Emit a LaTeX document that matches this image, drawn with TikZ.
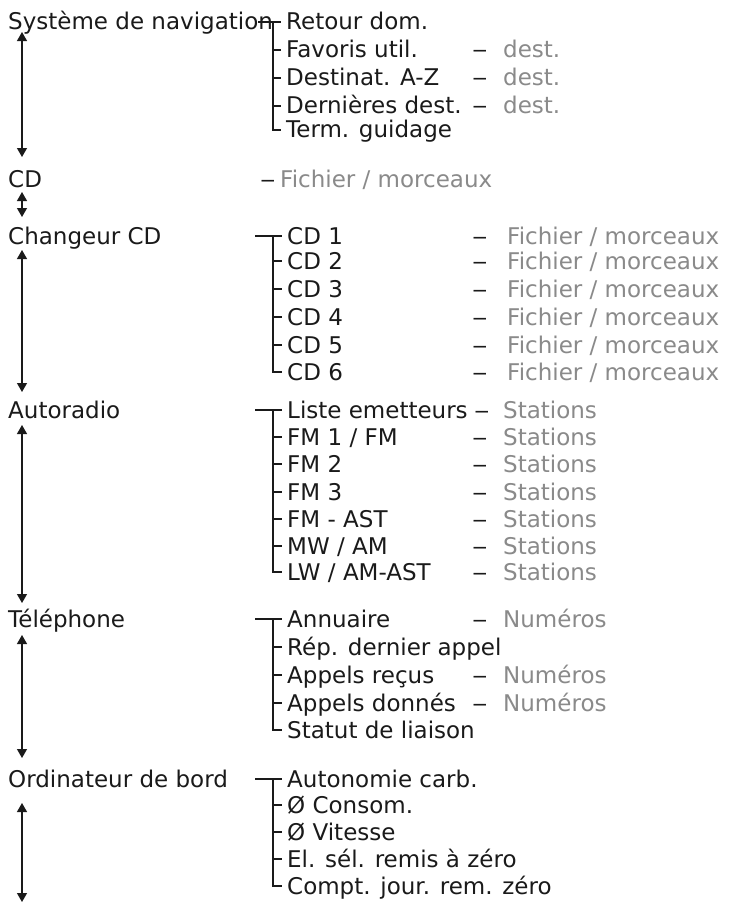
\documentclass[tikz,border=0pt]{standalone}
\usepackage{graphicx}
\usepackage{fontspec}
\setmainfont{DejaVu Sans}
\usetikzlibrary{arrows.meta}
\definecolor{ink}{HTML}{1A1A1A}
\definecolor{greytxt}{HTML}{8A8A8A}
\newcommand{\longdash}{\scalebox{1.35}[1]{–}}
\tikzset{
  lbl/.style={anchor=base west, inner sep=0pt, font=\fontsize{23}{27}\selectfont, text=ink},
  val/.style={lbl, text=greytxt},
  dsh/.style={anchor=base, inner sep=0pt, font=\fontsize{23}{27}\selectfont, text=ink},
  navarrow/.style={{Triangle[width=10pt,length=9pt]}-{Triangle[width=10pt,length=9pt]}, line width=1.2pt, draw=ink},
  tree/.style={line width=1.1pt, draw=ink}
}
\begin{document}
\begin{tikzpicture}[x=1pt,y=-1pt]
\useasboundingbox (0,0) rectangle (729,903);
\fill[white] (0,0) rectangle (729,903);

% left column
\node[lbl] (sys) at (8,29) {Système de navigation};
\node[lbl] (cd) at (8,187) {CD};
\node[lbl] (chg) at (8,244) {Changeur CD};
\node[lbl] (radio) at (8,418) {Autoradio};
\node[lbl] (tel) at (8,627) {Téléphone};
\node[lbl] (ord) at (8,787) {Ordinateur de bord};
\coordinate (endb) at (22,902);

\draw[navarrow] ([shift={(14,3)}]sys.base west) -- ([shift={(14,-30)}]cd.base west);
\draw[navarrow] ([shift={(14,5)}]cd.base west) -- ([shift={(14,-27)}]chg.base west);
\draw[navarrow] ([shift={(14,6)}]chg.base west) -- ([shift={(14,-26)}]radio.base west);
\draw[navarrow] ([shift={(14,7)}]radio.base west) -- ([shift={(14,-24)}]tel.base west);
\draw[navarrow] ([shift={(14,8)}]tel.base west) -- ([shift={(14,-29)}]ord.base west);
\draw[navarrow] ([shift={(14,16)}]ord.base west) -- (endb);

% navigation group
\node[lbl] (n1) at (286,29) {Retour dom.};
\node[lbl] (n2) at (286,57) {Favoris util.};
\node[lbl] (n3) at (286,85) {Destinat. A-Z};
\node[lbl] (n4) at (286,113) {Dernières dest.};
\node[lbl] (n5) at (286,137) {Term. guidage};
\draw[tree] ([shift={(-28,-7)}]n1.base west) -- ([shift={(-5,-7)}]n1.base west);
\draw[tree] ([shift={(-13,-7)}]n1.base west) |- ([shift={(-5,-7)}]n5.base west);
\foreach \i in {2,3,4}{\draw[tree] ([shift={(-13,-7)}]n\i.base west) -- ([shift={(-5,-7)}]n\i.base west);}
\foreach \i in {2,3,4}{
  \node[dsh] (nd\i) at (480,0 |- n\i.base) {\longdash};
  \node[val] (nv\i) at (503,0 |- n\i.base) {dest.};
}

% CD row
\node[dsh] (cdd) at (268,187) {\longdash};
\node[val] (cdv) at (280,187) {Fichier / morceaux};

% CD changer
\foreach \i/\y in {1/244,2/269,3/297,4/325,5/353,6/380}{
  \node[lbl] (c\i) at (287,\y) {CD \i};
  \node[dsh] (cdsh\i) at (480,\y) {\longdash};
  \node[val] (cv\i) at (507,\y) {Fichier / morceaux};
}
\draw[tree] ([shift={(-32,-8)}]c1.base west) -- ([shift={(-5,-8)}]c1.base west);
\draw[tree] ([shift={(-14,-8)}]c1.base west) |- ([shift={(-5,-8)}]c6.base west);
\foreach \i in {2,...,5}{\draw[tree] ([shift={(-14,-8)}]c\i.base west) -- ([shift={(-5,-8)}]c\i.base west);}

% radio
\node[lbl] (r1) at (287,418) {Liste emetteurs};
\node[lbl] (r2) at (287,445) {FM 1 / FM};
\node[lbl] (r3) at (287,472) {FM 2};
\node[lbl] (r4) at (287,500) {FM 3};
\node[lbl] (r5) at (287,527) {FM - AST};
\node[lbl] (r6) at (287,554) {MW / AM};
\node[lbl] (r7) at (287,580) {LW / AM-AST};
\draw[tree] ([shift={(-32,-8)}]r1.base west) -- ([shift={(-5,-8)}]r1.base west);
\draw[tree] ([shift={(-14,-8)}]r1.base west) |- ([shift={(-5,-8)}]r7.base west);
\foreach \i in {2,...,6}{\draw[tree] ([shift={(-14,-8)}]r\i.base west) -- ([shift={(-5,-8)}]r\i.base west);}
\node[dsh] (rd1) at (482,418) {\longdash};
\foreach \i in {2,...,7}{\node[dsh] (rd\i) at (480,0 |- r\i.base) {\longdash};}
\foreach \i in {1,...,7}{\node[val] (rv\i) at (503,0 |- r\i.base) {Stations};}

% telephone
\node[lbl] (t1) at (287,627) {Annuaire};
\node[lbl] (t2) at (287,655) {Rép. dernier appel};
\node[lbl] (t3) at (287,683) {Appels reçus};
\node[lbl] (t4) at (287,711) {Appels donnés};
\node[lbl] (t5) at (287,738) {Statut de liaison};
\draw[tree] ([shift={(-32,-8)}]t1.base west) -- ([shift={(-5,-8)}]t1.base west);
\draw[tree] ([shift={(-14,-8)}]t1.base west) |- ([shift={(-5,-8)}]t5.base west);
\foreach \i in {2,3,4}{\draw[tree] ([shift={(-14,-8)}]t\i.base west) -- ([shift={(-5,-8)}]t\i.base west);}
\foreach \i in {1,3,4}{
  \node[dsh] (td\i) at (480,0 |- t\i.base) {\longdash};
  \node[val] (tv\i) at (503,0 |- t\i.base) {Numéros};
}

% board computer
\node[lbl] (o1) at (287,787) {Autonomie carb.};
\node[lbl] (o2) at (287,813) {Ø Consom.};
\node[lbl] (o3) at (287,840) {Ø Vitesse};
\node[lbl] (o4) at (287,867) {El. sél. remis à zéro};
\node[lbl] (o5) at (287,894) {Compt. jour. rem. zéro};
\draw[tree] ([shift={(-32,-8)}]o1.base west) -- ([shift={(-5,-8)}]o1.base west);
\draw[tree] ([shift={(-14,-8)}]o1.base west) |- ([shift={(-5,-8)}]o5.base west);
\foreach \i in {2,3,4}{\draw[tree] ([shift={(-14,-8)}]o\i.base west) -- ([shift={(-5,-8)}]o\i.base west);}
\end{tikzpicture}
\end{document}
